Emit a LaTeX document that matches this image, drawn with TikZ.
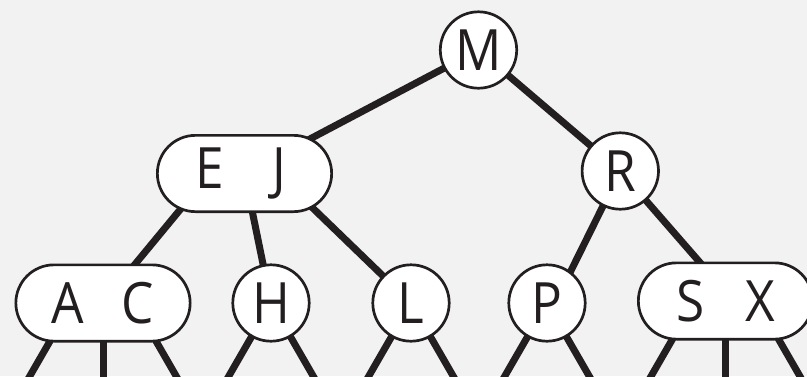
\documentclass[tikz,border=0pt]{standalone}
\usepackage{fontspec}
\setmainfont{Open Sans}[FakeStretch=0.9]
\usetikzlibrary{shapes.misc}
\definecolor{bgc}{HTML}{F2F2F2}
\definecolor{ink}{HTML}{231F20}
\pgfdeclarelayer{bg}
\pgfdeclarelayer{edges}
\pgfsetlayers{bg,edges,main}
\tikzset{
  key/.style={font=\fontsize{57}{58}\selectfont, text=ink, inner sep=0pt},
  twonode/.style={key, circle, draw=ink, line width=2.7pt, fill=white, minimum size=76.4pt},
  threenode/.style={key, rounded rectangle, draw=ink, line width=2.7pt, fill=white, minimum width=174.3pt, minimum height=76.3pt},
  link/.style={draw=ink, line width=7pt},
}
\newcommand{\twokeys}[2]{\makebox[0pt]{#1}\hspace{70pt}\makebox[0pt]{#2}}
\begin{document}
\begin{tikzpicture}[x=1pt,y=-1pt]
\useasboundingbox (0,0) rectangle (807,376);
\begin{pgfonlayer}{bg}
\fill[bgc] (0,0) rectangle (807,376);
\end{pgfonlayer}
% nodes
\node[twonode] (M) at (478.5,50) {M};
\node[threenode] (EJ) at (244.5,173.5) {\twokeys{E}{J}};
\node[twonode] (R) at (620.3,171) {R};
\node[threenode] (AC) at (103,303) {\twokeys{A}{C}};
\node[twonode] (H) at (271,303) {H};
\node[twonode] (L) at (411,303) {L};
\node[twonode] (P) at (547,303) {P};
\node[threenode] (SX) at (725.5,301) {\twokeys{S}{X}};
% links
\begin{pgfonlayer}{edges}
\draw[link] (M.center) -- (EJ.center);
\draw[link] (M.center) -- (R.center);
\draw[link] ([xshift=-34.5pt]EJ.center) -- (AC.center);
\draw[link] (EJ.center) -- (H.center);
\draw[link] ([xshift=32.5pt]EJ.center) -- (L.center);
\draw[link] (R.center) -- ([xshift=8pt]P.center);
\draw[link] (R.center) -- ([xshift=8pt]SX.center);
% null links
\foreach \n in {H,L,P}{
  \draw[link] (\n.center) -- +(-56,97);
  \draw[link] (\n.center) -- +(56,97);
}
\foreach \n in {AC,SX}{
  \draw[link] ([xshift=-31pt]\n.center) -- +(-56,97);
  \draw[link] (\n.center) -- +(0,97);
  \draw[link] ([xshift=31pt]\n.center) -- +(56,97);
}
\end{pgfonlayer}
\end{tikzpicture}
\end{document}
